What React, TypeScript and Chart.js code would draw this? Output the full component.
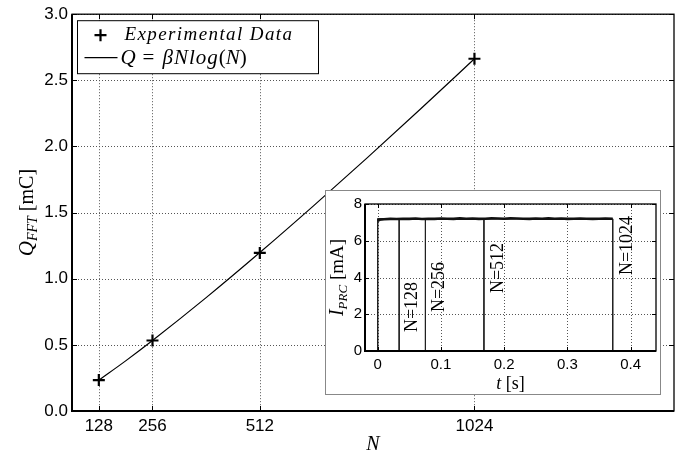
import React, { useEffect, useRef } from "react";
import { Chart, registerables } from "chart.js";

Chart.register(...registerables);

// ---------- main plot data ----------
const N_POINTS = [128, 256, 512, 1024];
const Q_MEASURED = [0.234, 0.533, 1.195, 2.663];
const N_FIT = [128, 192, 256, 384, 512, 640, 768, 896, 1024];
const Q_FIT = [0.233, 0.379, 0.533, 0.857, 1.198, 1.551, 1.914, 2.285, 2.663];
const N_TICKS = [128, 256, 512, 1024];
const N_MIN = 64;
const N_MAX = 1500;
const Q_MIN = 0;
const Q_MAX = 3;
const Q_STEP = 0.5;

// ---------- inset data ----------
const T_TICKS = [0, 0.1, 0.2, 0.3, 0.4];
const T_MIN = -0.02;
const T_MAX = 0.44;
const I_MIN = 0;
const I_MAX = 8;
const I_STEP = 1;
const RUN_LABELS = ["N=128", "N=256", "N=512", "N=1024"];
const RUN_END_T = [0.034, 0.0755, 0.168, 0.3716];
const PULSE_LEVEL = 7.19;
const NOISE_T = [0, 0.003, 0.01, 0.02, 0.03, 0.04, 0.05, 0.06, 0.07, 0.08, 0.09, 0.1, 0.11, 0.12, 0.13, 0.14, 0.15, 0.16, 0.17, 0.18, 0.19, 0.2, 0.21, 0.22, 0.23, 0.24, 0.25, 0.26, 0.27, 0.28, 0.29, 0.3, 0.31, 0.32, 0.33, 0.34, 0.35, 0.36, 0.3716];
const NOISE_I = [7.08, 7.14, 7.17, 7.19, 7.18, 7.2, 7.19, 7.21, 7.18, 7.2, 7.19, 7.21, 7.2, 7.19, 7.22, 7.2, 7.21, 7.19, 7.2, 7.22, 7.21, 7.2, 7.22, 7.21, 7.2, 7.19, 7.21, 7.2, 7.22, 7.2, 7.21, 7.19, 7.2, 7.21, 7.2, 7.19, 7.2, 7.21, 7.2];
const LABEL_T = [0.0525, 0.0956, 0.188, 0.3926];
const LABEL_I = [1.03, 2.12, 3.15, 4.13];

const SERIF = '"Liberation Serif", "DejaVu Serif", serif';
const SANS = '"Liberation Sans", Arial, sans-serif';

type Run = { text: string; font: string; dy?: number; ls?: number };

function drawRuns(ctx: CanvasRenderingContext2D, runs: Run[], x: number, y: number, align: "left" | "center", rotate: boolean) {
  ctx.save();
  ctx.translate(x, y);
  if (rotate) ctx.rotate(-Math.PI / 2);
  ctx.textBaseline = "alphabetic";
  ctx.textAlign = "left";
  ctx.fillStyle = "#000";
  let total = 0;
  const widths = runs.map((r) => {
    ctx.font = r.font;
    (ctx as any).letterSpacing = (r.ls || 0) + "px";
    const w = ctx.measureText(r.text).width;
    total += w;
    return w;
  });
  let cx = align === "center" ? -total / 2 : 0;
  runs.forEach((r, i) => {
    ctx.font = r.font;
    (ctx as any).letterSpacing = (r.ls || 0) + "px";
    ctx.fillText(r.text, cx, r.dy || 0);
    cx += widths[i];
  });
  (ctx as any).letterSpacing = "0px";
  ctx.restore();
}

function dottedGrid(chart: any) {
  const ctx: CanvasRenderingContext2D = chart.ctx;
  const { left, right, top, bottom } = chart.chartArea;
  const xs = chart.scales.x;
  const ys = chart.scales.y;
  ctx.save();
  ctx.strokeStyle = "#555";
  ctx.lineWidth = 1;
  ctx.setLineDash([1, 2]);
  ctx.beginPath();
  xs.ticks.forEach((t: any) => {
    const px = Math.round(xs.getPixelForValue(t.value)) + 0.5;
    ctx.moveTo(px, top);
    ctx.lineTo(px, bottom);
  });
  ys.ticks.forEach((t: any) => {
    const py = Math.round(ys.getPixelForValue(t.value)) + 0.5;
    ctx.moveTo(left, py);
    ctx.lineTo(right, py);
  });
  ctx.stroke();
  ctx.restore();
}

function frameAndTicks(chart: any, tickLen: number) {
  const ctx: CanvasRenderingContext2D = chart.ctx;
  const { left, right, top, bottom } = chart.chartArea;
  const xs = chart.scales.x;
  const ys = chart.scales.y;
  ctx.save();
  ctx.strokeStyle = "#000";
  ctx.lineWidth = 1;
  ctx.beginPath();
  xs.ticks.forEach((t: any) => {
    const px = Math.round(xs.getPixelForValue(t.value)) + 0.5;
    ctx.moveTo(px, bottom);
    ctx.lineTo(px, bottom - tickLen);
    ctx.moveTo(px, top);
    ctx.lineTo(px, top + tickLen);
  });
  ys.ticks.forEach((t: any) => {
    const py = Math.round(ys.getPixelForValue(t.value)) + 0.5;
    ctx.moveTo(left, py);
    ctx.lineTo(left + tickLen, py);
    ctx.moveTo(right, py);
    ctx.lineTo(right - tickLen, py);
  });
  ctx.stroke();
  ctx.lineWidth = 1.3;
  ctx.strokeRect(left, top, right - left, bottom - top);
  ctx.lineWidth = 2;
  ctx.beginPath();
  ctx.moveTo(left, top);
  ctx.lineTo(left, bottom);
  ctx.lineTo(right, bottom);
  ctx.stroke();
  ctx.restore();
}

const mainPlugin = {
  id: "mainDecor",
  beforeDatasetsDraw(chart: any) {
    dottedGrid(chart);
  },
  afterDraw(chart: any) {
    const ctx: CanvasRenderingContext2D = chart.ctx;
    const { left, right, top, bottom } = chart.chartArea;
    frameAndTicks(chart, 5);

    // legend
    ctx.save();
    const lx = left + 5.5;
    const ly = top + 6.5;
    ctx.fillStyle = "#fff";
    ctx.fillRect(lx, ly, 241, 53);
    ctx.strokeStyle = "#000";
    ctx.lineWidth = 1;
    ctx.strokeRect(lx, ly, 241, 53);
    ctx.lineWidth = 2.2;
    ctx.beginPath();
    ctx.moveTo(lx + 17, ly + 14.5);
    ctx.lineTo(lx + 29, ly + 14.5);
    ctx.moveTo(lx + 23, ly + 8.5);
    ctx.lineTo(lx + 23, ly + 20.5);
    ctx.stroke();
    ctx.lineWidth = 1.2;
    ctx.beginPath();
    ctx.moveTo(lx + 7, ly + 37);
    ctx.lineTo(lx + 40, ly + 37);
    ctx.stroke();
    ctx.restore();
    drawRuns(ctx, [{ text: "Experimental Data", font: `italic 19px ${SERIF}`, ls: 1.4 }], lx + 47, ly + 19, "left", false);
    drawRuns(
      ctx,
      [
        { text: "Q", font: `italic 21px ${SERIF}` },
        { text: " = ", font: `21px ${SERIF}`, ls: 1.5 },
        { text: "βNlog", font: `italic 21px ${SERIF}`, ls: 1 },
        { text: "(", font: `21px ${SERIF}` },
        { text: "N", font: `italic 21px ${SERIF}` },
        { text: ")", font: `21px ${SERIF}` },
      ],
      lx + 43,
      ly + 43,
      "left",
      false
    );

    // axis titles
    drawRuns(ctx, [{ text: "N", font: `italic 20px ${SERIF}` }], (left + right) / 2, 450, "center", false);
    drawRuns(
      ctx,
      [
        { text: "Q", font: `italic 21px ${SERIF}` },
        { text: "FFT", font: `italic 14px ${SERIF}`, dy: 4 },
        { text: " [mC]", font: `20px ${SERIF}` },
      ],
      33,
      (top + bottom) / 2,
      "center",
      true
    );
  },
};

const insetPlugin = {
  id: "insetDecor",
  beforeDatasetsDraw(chart: any) {
    dottedGrid(chart);
  },
  afterDraw(chart: any) {
    const ctx: CanvasRenderingContext2D = chart.ctx;
    const { left, right, top, bottom } = chart.chartArea;
    const xs = chart.scales.x;
    const ys = chart.scales.y;
    frameAndTicks(chart, 4);
    RUN_LABELS.forEach((lab, i) => {
      drawRuns(
        ctx,
        [{ text: lab, font: `18px ${SERIF}` }],
        xs.getPixelForValue(LABEL_T[i]) + 6,
        ys.getPixelForValue(LABEL_I[i]),
        "left",
        true
      );
    });
    drawRuns(
      ctx,
      [
        { text: "t", font: `italic 18px ${SERIF}` },
        { text: " [s]", font: `18px ${SERIF}` },
      ],
      (left + right) / 2,
      198,
      "center",
      false
    );
    drawRuns(
      ctx,
      [
        { text: "I", font: `italic 20px ${SERIF}` },
        { text: "PRC", font: `italic 13px ${SERIF}`, dy: 4 },
        { text: " [mA]", font: `19px ${SERIF}` },
      ],
      17,
      (top + bottom) / 2,
      "center",
      true
    );
  },
};

export default function App() {
  const mainRef = useRef<HTMLCanvasElement>(null);
  const insetRef = useRef<HTMLCanvasElement>(null);

  useEffect(() => {
    const mainChart = new Chart(mainRef.current as HTMLCanvasElement, {
      type: "line",
      data: {
        datasets: [
          {
            label: "Experimental Data",
            data: N_POINTS.map((n, i) => ({ x: n, y: Q_MEASURED[i] })),
            showLine: false,
            pointStyle: "cross",
            pointRadius: 6,
            pointBorderWidth: 2.2,
            pointBorderColor: "#000",
            borderColor: "#000",
            order: 0,
          } as any,
          {
            label: "Q = βNlog(N)",
            data: N_FIT.map((n, i) => ({ x: n, y: Q_FIT[i] })),
            borderColor: "#000",
            borderWidth: 1.2,
            pointRadius: 0,
            tension: 0.4,
            cubicInterpolationMode: "monotone",
            order: 1,
          } as any,
        ],
      },
      options: {
        responsive: false,
        animation: false,
        devicePixelRatio: 1,
        layout: { padding: { left: 0, top: 10, right: 12, bottom: 0 } },
        plugins: { legend: { display: false }, tooltip: { enabled: false } },
        scales: {
          x: {
            type: "linear",
            min: N_MIN,
            max: N_MAX,
            afterBuildTicks: (s: any) => {
              s.ticks = N_TICKS.map((v) => ({ value: v }));
            },
            afterFit: (s: any) => {
              s.height = 43;
            },
            ticks: {
              color: "#000",
              font: { family: SANS, size: 17 },
              padding: 5,
              maxRotation: 0,
              autoSkip: false,
              callback: (v: any) => String(v),
            },
            grid: { display: false, drawTicks: false },
            border: { display: false },
          },
          y: {
            type: "linear",
            min: Q_MIN,
            max: Q_MAX,
            afterFit: (s: any) => {
              s.width = 72;
            },
            ticks: {
              stepSize: Q_STEP,
              color: "#000",
              font: { family: SANS, size: 17 },
              padding: 4,
              callback: (v: any) => Number(v).toFixed(1),
            },
            grid: { display: false, drawTicks: false },
            border: { display: false },
          },
        },
      } as any,
      plugins: [mainPlugin],
    });

    const runSets = RUN_END_T.map((tEnd, i) => ({
      label: RUN_LABELS[i],
      data: [
        { x: 0, y: 0 },
        { x: 0, y: PULSE_LEVEL },
        { x: tEnd, y: PULSE_LEVEL },
        { x: tEnd, y: 0 },
      ],
      borderColor: "#222",
      borderWidth: 1,
      pointRadius: 0,
      tension: 0,
    }));

    const insetChart = new Chart(insetRef.current as HTMLCanvasElement, {
      type: "line",
      data: {
        datasets: [
          {
            label: "I_PRC",
            data: NOISE_T.map((t, i) => ({ x: t, y: NOISE_I[i] })),
            borderColor: "#111",
            borderWidth: 2.6,
            pointRadius: 0,
            tension: 0,
          },
          ...runSets,
        ],
      },
      options: {
        responsive: false,
        animation: false,
        devicePixelRatio: 1,
        layout: { padding: { left: 0, top: 13, right: 4, bottom: 0 } },
        plugins: { legend: { display: false }, tooltip: { enabled: false } },
        scales: {
          x: {
            type: "linear",
            min: T_MIN,
            max: T_MAX,
            afterBuildTicks: (s: any) => {
              s.ticks = T_TICKS.map((v) => ({ value: v }));
            },
            afterFit: (s: any) => {
              s.height = 43;
            },
            ticks: {
              color: "#000",
              font: { family: SANS, size: 15 },
              padding: 5,
              maxRotation: 0,
              autoSkip: false,
              callback: (v: any) => String(Math.round(Number(v) * 10) / 10),
            },
            grid: { display: false, drawTicks: false },
            border: { display: false },
          },
          y: {
            type: "linear",
            min: I_MIN,
            max: I_MAX,
            afterFit: (s: any) => {
              s.width = 39;
            },
            ticks: {
              stepSize: I_STEP,
              color: "#000",
              font: { family: SANS, size: 15 },
              padding: 3,
              callback: (v: any) => (Number(v) % 2 === 0 ? String(v) : ""),
            },
            grid: { display: false, drawTicks: false },
            border: { display: false },
          },
        },
      } as any,
      plugins: [insetPlugin],
    });

    return () => {
      mainChart.destroy();
      insetChart.destroy();
    };
  }, []);

  return (
    <div style={{ position: "fixed", left: 0, top: 0, width: 686, height: 454, background: "#fff", overflow: "hidden" }}>
      <canvas ref={mainRef} width={686} height={454} style={{ position: "absolute", left: 0, top: 0, width: 686, height: 454 }} />
      <div
        style={{
          position: "absolute",
          left: 325,
          top: 190,
          width: 336,
          height: 205,
          boxSizing: "border-box",
          border: "1px solid #888",
          background: "#fff",
        }}
      >
        <canvas ref={insetRef} width={334} height={203} style={{ display: "block", width: 334, height: 203 }} />
      </div>
    </div>
  );
}
